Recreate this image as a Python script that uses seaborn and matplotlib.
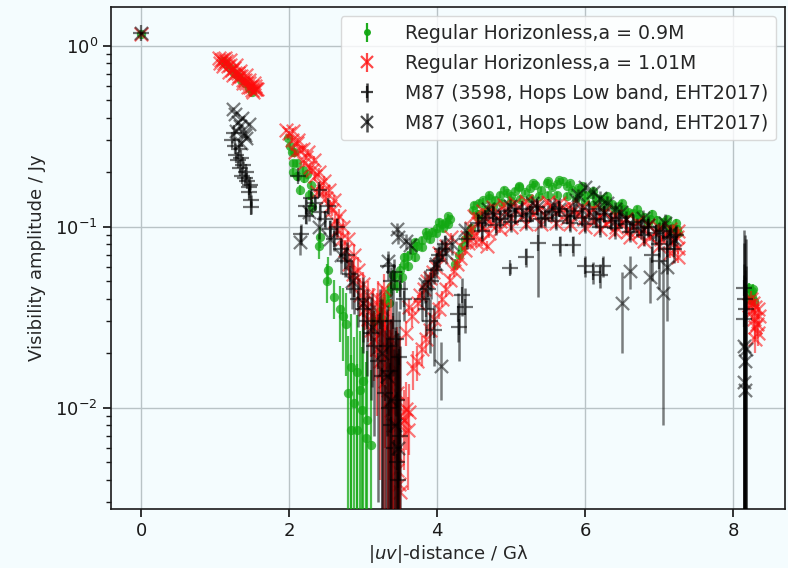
import matplotlib
matplotlib.use("Agg")
import matplotlib.pyplot as plt
import seaborn as sns

# =====================================================================
# Visibility amplitudes (Jy) against baseline length |uv| (G-lambda).
# Each series is stored as a few segments: u, amp and the 1-sigma error
# (a list, or a single value shared by the segment).
# =====================================================================

# ---- Regular horizonless model, a = 0.9M ----
g_zero_u, g_zero_amp, g_zero_err = [0.00], [1.17], 0.02
g_short_u = [1.10, 1.15, 1.20, 1.25, 1.30, 1.35, 1.40, 1.45, 1.49]
g_short_amp = [0.82, 0.79, 0.75, 0.71, 0.68, 0.65, 0.62, 0.585, 0.555]
g_short_err = 0.01
g_fall_u = [1.98, 2.01, 2.04, 2.07, 2.05, 2.10, 2.05, 2.18, 2.10, 2.24, 2.20, 2.30, 2.14, 2.27,
            2.31, 2.41, 2.40, 2.52, 2.51, 2.61, 2.68, 2.72, 2.76, 2.84, 2.91, 2.88,
            2.84, 2.92, 2.98, 3.03, 3.05, 3.10, 2.80, 2.95, 3.00]
g_fall_amp = [0.31, 0.28, 0.26, 0.26, 0.225, 0.225, 0.20, 0.205, 0.19, 0.195, 0.185, 0.17, 0.16, 0.15,
              0.128, 0.088, 0.078, 0.058, 0.050, 0.041, 0.035, 0.032, 0.029, 0.0168, 0.0157, 0.0106,
              0.0075, 0.0075, 0.0097, 0.0068, 0.0085, 0.0062, 0.0120, 0.0125, 0.0140]
g_fall_err = [0.01, 0.01, 0.01, 0.01, 0.01, 0.01, 0.01, 0.01, 0.01, 0.01, 0.01, 0.01, 0.01, 0.01,
              0.012, 0.012, 0.012, 0.010, 0.012, 0.010, 0.012, 0.014, 0.014, 0.016, 0.017, 0.014,
              0.012, 0.010, 0.012, 0.011, 0.012, 0.010, 0.013, 0.014, 0.015]
g_rise_u = [3.15, 3.22, 3.28, 3.33, 3.38, 3.43, 3.49, 3.55, 3.61, 3.67, 3.73, 3.79, 3.86, 3.93,
            4.00, 4.06, 4.12, 4.17,
            3.25, 3.35, 3.45, 3.52, 3.60, 3.70, 3.80, 3.90, 3.98, 4.08, 4.15,
            3.40, 3.55, 3.70, 3.85, 4.02, 4.14,
            4.24, 4.29, 4.33, 4.38, 4.42, 4.45]
g_rise_amp = [0.030, 0.034, 0.039, 0.043, 0.047, 0.053, 0.058, 0.062, 0.069, 0.074, 0.078, 0.084,
              0.090, 0.094, 0.099, 0.103, 0.106, 0.110,
              0.031, 0.038, 0.047, 0.053, 0.061, 0.068, 0.077, 0.085, 0.092, 0.098, 0.103,
              0.054, 0.068, 0.082, 0.094, 0.106, 0.114,
              0.062, 0.070, 0.077, 0.085, 0.091, 0.098]
g_rise_err = 0.004
g_arc_u = [4.48, 4.50, 4.55, 4.57, 4.62, 4.70, 4.78, 4.85, 4.94, 5.00, 5.05, 5.11,
           5.18, 5.25, 5.32, 5.40, 5.48, 5.55, 5.62, 5.70, 5.75, 5.82, 5.90, 5.93,
           6.00, 6.08, 6.15, 6.22, 6.29, 6.36, 6.45, 6.52, 6.58, 6.64, 6.72, 6.80,
           6.88, 6.97, 7.05, 7.12, 7.19, 7.24,
           4.55, 4.65, 4.75, 4.88, 5.00, 5.12, 5.25, 5.38, 5.50, 5.62, 5.75, 5.88,
           6.00, 6.12, 6.25, 6.40, 6.55, 6.70, 6.85, 7.00, 7.15, 7.25,
           4.70, 4.90, 5.10, 5.30, 5.50, 5.65, 5.80, 5.95, 6.10, 6.30, 6.50, 6.70,
           6.90, 7.10, 7.22]
g_arc_amp = [0.123, 0.132, 0.118, 0.135, 0.140, 0.145, 0.141, 0.150, 0.153, 0.147, 0.158, 0.166,
             0.155, 0.163, 0.170, 0.160, 0.174, 0.165, 0.172, 0.178, 0.168, 0.160, 0.163, 0.155,
             0.150, 0.152, 0.145, 0.142, 0.140, 0.133, 0.130, 0.125, 0.121, 0.119, 0.117, 0.113,
             0.111, 0.109, 0.106, 0.102, 0.099, 0.097,
             0.113, 0.125, 0.130, 0.135, 0.138, 0.142, 0.145, 0.147, 0.150, 0.150, 0.148, 0.144,
             0.139, 0.134, 0.129, 0.123, 0.117, 0.111, 0.105, 0.100, 0.096, 0.092,
             0.150, 0.160, 0.168, 0.175, 0.178, 0.182, 0.174, 0.168, 0.158, 0.148, 0.136, 0.126,
             0.118, 0.110, 0.105]
g_arc_err = 0.005
g_far_u = [8.22, 8.24, 8.26, 8.28, 8.25, 8.23, 8.27]
g_far_amp = [0.046, 0.043, 0.041, 0.039, 0.044, 0.040, 0.045]
g_far_err = 0.003

# ---- Regular horizonless model, a = 1.01M ----
r_zero_u, r_zero_amp, r_zero_err = [0.00], [1.17], 0.02
r_short_u = [1.05, 1.08, 1.10, 1.12, 1.15, 1.17, 1.20, 1.22, 1.25, 1.27, 1.30, 1.32, 1.35, 1.37,
             1.40, 1.42, 1.45, 1.47, 1.50, 1.53, 1.55,
             1.07, 1.10, 1.13, 1.18, 1.20, 1.24, 1.28, 1.31, 1.34, 1.38, 1.41, 1.44, 1.46,
             1.49, 1.52, 1.54, 1.56, 1.51]
r_short_amp = [0.86, 0.83, 0.85, 0.80, 0.82, 0.77, 0.78, 0.74, 0.75, 0.71, 0.71, 0.68, 0.68, 0.65,
               0.65, 0.62, 0.62, 0.595, 0.60, 0.58, 0.575,
               0.80, 0.77, 0.86, 0.72, 0.83, 0.69, 0.78, 0.66, 0.73, 0.62, 0.69, 0.59, 0.65,
               0.57, 0.62, 0.60, 0.58, 0.555]
r_short_err = 0.01
r_fall_u = [1.96, 2.00, 2.03, 2.10, 2.08, 2.15, 2.23, 2.20, 2.28, 2.31, 2.35, 2.41, 2.38, 2.45,
            2.50, 2.55, 2.58, 2.62, 2.65, 2.70, 2.75, 2.81, 2.86, 2.88, 2.95, 2.99,
            2.05, 2.12, 2.18, 2.25, 2.33, 2.40, 2.47, 2.53, 2.60, 2.67, 2.73, 2.80, 2.87, 2.93]
r_fall_amp = [0.342, 0.33, 0.30, 0.29, 0.26, 0.265, 0.243, 0.225, 0.215, 0.206, 0.19, 0.170, 0.155,
              0.158, 0.145, 0.13, 0.124, 0.108, 0.096, 0.085, 0.074, 0.062, 0.055, 0.051, 0.042, 0.038,
              0.34, 0.30, 0.27, 0.26, 0.235, 0.20, 0.18, 0.16, 0.14, 0.115, 0.10, 0.085, 0.07, 0.058]
r_fall_err = 0.01
r_null_u = [3.02, 3.07, 3.11, 3.15, 3.19, 3.23, 3.26, 3.30, 3.33, 3.36, 3.38, 3.40, 3.42, 3.44,
            3.46, 3.48, 3.50,
            3.20, 3.25, 3.30, 3.35, 3.40, 3.45, 3.50, 3.28, 3.38,
            3.00, 3.06, 3.13, 3.18, 3.24, 3.29, 3.34, 3.39, 3.44, 3.48]
r_null_amp = [0.035, 0.031, 0.027, 0.024, 0.021, 0.018, 0.016, 0.014, 0.0125, 0.011, 0.0097, 0.0080,
              0.0066, 0.0055, 0.0045, 0.0038, 0.0034,
              0.040, 0.035, 0.028, 0.020, 0.016, 0.012, 0.009, 0.045, 0.024,
              0.048, 0.042, 0.036, 0.031, 0.026, 0.022, 0.018, 0.014, 0.0105, 0.008]
r_null_err = [0.008, 0.008, 0.008, 0.010, 0.012, 0.014, 0.015, 0.016, 0.016, 0.016, 0.016, 0.016,
              0.016, 0.016, 0.016, 0.016, 0.016,
              0.010, 0.012, 0.014, 0.016, 0.016, 0.016, 0.016, 0.010, 0.016,
              0.008, 0.008, 0.010, 0.012, 0.014, 0.016, 0.016, 0.016, 0.016, 0.016]
r_low_u = [3.55, 3.58, 3.62, 3.60]
r_low_amp = [0.0085, 0.0098, 0.0095, 0.0075]
r_low_err = 0.004
r_rise_u = [3.67, 3.73, 3.80, 3.85, 3.90, 3.96, 4.02, 4.07, 4.12, 4.17, 4.22, 4.26, 4.31, 4.37, 4.42,
            3.58, 3.66, 3.74, 3.82, 3.90, 3.98, 4.05, 4.12, 3.77, 3.94, 3.62, 3.86, 4.02, 4.18]
r_rise_amp = [0.0165, 0.018, 0.021, 0.024, 0.027, 0.031, 0.035, 0.040, 0.045, 0.051, 0.057, 0.062,
              0.067, 0.074, 0.081,
              0.026, 0.032, 0.038, 0.045, 0.052, 0.060, 0.068, 0.078, 0.042, 0.056, 0.036, 0.050,
              0.072, 0.088]
r_rise_err = 0.004
r_arc_u = [4.45, 4.50, 4.55, 4.60, 4.66, 4.72, 4.78, 4.85, 4.92, 5.00, 5.08, 5.15, 5.22, 5.30,
           5.38, 5.45, 5.52, 5.60, 5.68, 5.75, 5.82, 5.90, 5.98, 6.05, 6.12, 6.20, 6.28, 6.35,
           6.42, 6.50, 6.58, 6.65, 6.72, 6.80, 6.88, 6.95, 7.02, 7.10, 7.18, 7.24, 7.26, 4.67, 4.60,
           4.50, 4.62, 4.75, 4.90, 5.05, 5.20, 5.35, 5.50, 5.65, 5.80, 5.95, 6.10, 6.25, 6.40,
           6.55, 6.70, 6.85, 7.00, 7.15, 7.25,
           4.40, 4.52, 4.70, 4.85, 5.00, 5.20, 5.40, 5.60, 5.80, 6.00, 6.20, 6.40, 6.60, 6.80,
           7.00, 7.15, 7.25]
r_arc_amp = [0.098, 0.090, 0.105, 0.098, 0.112, 0.104, 0.118, 0.108, 0.122, 0.112, 0.126, 0.115,
             0.128, 0.118, 0.125, 0.114, 0.130, 0.120, 0.126, 0.112, 0.122, 0.117, 0.110, 0.120,
             0.108, 0.114, 0.104, 0.110, 0.100, 0.106, 0.095, 0.101, 0.092, 0.097, 0.088, 0.094,
             0.085, 0.091, 0.082, 0.088, 0.076, 0.078, 0.083,
             0.115, 0.122, 0.128, 0.132, 0.135, 0.138, 0.136, 0.137, 0.135, 0.132, 0.128, 0.126,
             0.120, 0.115, 0.110, 0.106, 0.102, 0.099, 0.097, 0.095,
             0.088, 0.082, 0.092, 0.097, 0.100, 0.104, 0.103, 0.105, 0.103, 0.100, 0.097, 0.093,
             0.088, 0.083, 0.078, 0.072, 0.068]
r_arc_err = 0.005
r_far_u = [8.22, 8.25, 8.28, 8.30, 8.32, 8.34, 8.27, 8.35, 8.30, 8.24, 8.33, 8.29]
r_far_amp = [0.037, 0.034, 0.031, 0.036, 0.029, 0.026, 0.038, 0.032, 0.024, 0.040, 0.035, 0.028]
r_far_err = 0.004

# ---- M87, track 3598 (HOPS low band, EHT 2017) ----
p_zero_u, p_zero_amp, p_zero_err = [0.00], [1.18], 0.02
p_short_u = [1.23, 1.26, 1.28, 1.30, 1.33, 1.36, 1.40, 1.43, 1.45, 1.46, 1.48, 1.48, 1.38, 1.25,
             1.32, 1.42, 1.47, 1.35]
p_short_amp = [0.30, 0.28, 0.25, 0.234, 0.21, 0.19, 0.185, 0.18, 0.165, 0.155, 0.14, 0.128, 0.22,
               0.33, 0.27, 0.20, 0.17, 0.24]
p_short_err = 0.01
p_fall_u = [2.16, 2.22, 2.22, 2.30, 2.35, 2.42, 2.48, 2.55, 2.60, 2.70, 2.75, 2.82, 2.88, 2.93,
            2.12, 2.40, 2.52, 2.64, 2.78]
p_fall_amp = [0.091, 0.130, 0.115, 0.145, 0.135, 0.12, 0.11, 0.097, 0.085, 0.075, 0.065, 0.055,
              0.045, 0.040, 0.19, 0.16, 0.13, 0.10, 0.07]
p_fall_err = 0.012
p_null_u = [3.00, 3.05, 3.10, 3.15, 3.20, 3.25, 3.30, 3.35, 3.38, 3.42, 3.45, 3.47,
            3.40, 3.44, 3.48, 3.22, 3.32, 3.36, 3.46, 3.50]
p_null_amp = [0.035, 0.030, 0.026, 0.022, 0.018, 0.015, 0.012, 0.010, 0.008, 0.006, 0.005, 0.004,
              0.030, 0.024, 0.019, 0.030, 0.022, 0.016, 0.011, 0.007]
p_null_err = 0.015
p_mid_u = [3.33, 3.42, 3.38, 3.50, 3.55,
           3.80, 3.85, 3.88, 3.92, 3.95, 4.00, 4.03, 4.07, 4.10, 3.90, 3.95, 4.30, 4.37, 4.28,
           4.33, 4.40]
p_mid_amp = [0.061, 0.056, 0.050, 0.045, 0.040,
             0.040, 0.035, 0.045, 0.050, 0.058, 0.065, 0.070, 0.075, 0.080, 0.030, 0.027, 0.028,
             0.036, 0.033, 0.042, 0.085]
p_mid_err = 0.01
p_arc_u = [4.55, 4.65, 4.75, 4.85, 4.95, 5.05, 5.15, 5.25, 5.35, 5.45, 5.55, 5.65, 5.75, 5.85,
           5.95, 6.05, 6.15, 6.25, 6.35, 6.45, 6.55, 6.65, 6.75, 6.85, 6.95, 7.05, 7.15, 7.22,
           4.60, 4.80, 5.00, 5.20, 5.40, 5.60, 5.80, 6.00, 6.20, 6.40, 6.60, 6.80, 7.00, 7.20]
p_arc_amp = [0.105, 0.112, 0.118, 0.110, 0.122, 0.115, 0.125, 0.118, 0.128, 0.112, 0.120, 0.126,
             0.115, 0.122, 0.112, 0.125, 0.110, 0.118, 0.108, 0.112, 0.104, 0.106, 0.098, 0.100,
             0.092, 0.095, 0.088, 0.090,
             0.095, 0.102, 0.106, 0.108, 0.110, 0.108, 0.105, 0.104, 0.100, 0.098, 0.094, 0.090,
             0.080, 0.075]
p_arc_err = 0.012
p_out_u = [4.98, 5.20, 5.36, 5.66, 5.83, 6.00, 6.10, 6.24, 6.20, 6.90, 7.00, 7.10]
p_out_amp = [0.059, 0.068, 0.081, 0.079, 0.079, 0.061, 0.056, 0.061, 0.054, 0.070, 0.065, 0.075]
p_out_err = [0.004, 0.008, 0.040, 0.010, 0.010, 0.008, 0.008, 0.008, 0.008, 0.020, 0.020, 0.020]
p_far_u = [8.14, 8.16, 8.15, 8.17]
p_far_amp = [0.046, 0.040, 0.031, 0.035]
p_far_err = 0.05

# ---- M87, track 3601 (HOPS low band, EHT 2017) ----
x_zero_u, x_zero_amp, x_zero_err = [0.00], [1.18], 0.02
x_short_u = [1.24, 1.27, 1.30, 1.33, 1.36, 1.39, 1.42, 1.45, 1.28, 1.35, 1.40]
x_short_amp = [0.45, 0.42, 0.38, 0.36, 0.40, 0.33, 0.31, 0.37, 0.34, 0.29, 0.32]
x_short_err = 0.01
x_fall_u = [2.14, 2.26, 2.40, 2.55, 2.70, 2.85, 3.00, 3.12, 3.25, 3.32, 3.38, 3.43, 3.47]
x_fall_amp = [0.082, 0.120, 0.100, 0.085, 0.070, 0.050, 0.038, 0.028, 0.020, 0.015, 0.011, 0.008, 0.006]
x_fall_err = [0.012, 0.012, 0.015, 0.015, 0.015, 0.015, 0.015, 0.015, 0.020, 0.020, 0.020, 0.020, 0.020]
x_mid_u = [3.33, 3.45, 3.47, 3.63, 3.58, 3.84, 3.98, 4.05, 4.12, 4.37, 4.20]
x_mid_amp = [0.065, 0.097, 0.088, 0.079, 0.083, 0.048, 0.062, 0.017, 0.072, 0.096, 0.080]
x_mid_err = [0.008, 0.008, 0.008, 0.008, 0.008, 0.010, 0.010, 0.006, 0.010, 0.010, 0.010]
x_arc_u = [4.60, 4.75, 4.90, 5.05, 5.20, 5.35, 5.50, 5.65, 5.80, 5.95, 6.10, 6.25, 6.40, 6.55,
           6.70, 6.85, 7.00, 7.15, 7.20,
           5.90, 6.00, 6.10, 6.20, 6.30, 6.40,
           4.68, 4.98, 5.28, 5.58, 5.88, 6.18, 6.48, 6.78, 7.08]
x_arc_amp = [0.110, 0.118, 0.115, 0.124, 0.118, 0.128, 0.120, 0.126, 0.118, 0.124, 0.114, 0.118,
             0.108, 0.110, 0.100, 0.102, 0.094, 0.092, 0.086,
             0.150, 0.165, 0.155, 0.145, 0.135, 0.125,
             0.125, 0.130, 0.135, 0.132, 0.140, 0.128, 0.120, 0.112, 0.105]
x_arc_err = 0.012
x_out_u = [6.50, 6.60, 6.87, 7.05, 7.10]
x_out_amp = [0.038, 0.057, 0.053, 0.043, 0.060]
x_out_err = [0.018, 0.012, 0.015, 0.035, 0.030]
x_far_u = [8.15, 8.16, 8.15, 8.16, 8.17]
x_far_amp = [0.022, 0.018, 0.0138, 0.0125, 0.021]
x_far_err = 0.04

labels = ["Regular Horizonless,a = 0.9M",
          "Regular Horizonless,a = 1.01M",
          "M87 (3598, Hops Low band, EHT2017)",
          "M87 (3601, Hops Low band, EHT2017)"]

green_segments = [(g_zero_u, g_zero_amp, g_zero_err), (g_short_u, g_short_amp, g_short_err),
                  (g_fall_u, g_fall_amp, g_fall_err), (g_rise_u, g_rise_amp, g_rise_err),
                  (g_arc_u, g_arc_amp, g_arc_err), (g_far_u, g_far_amp, g_far_err)]
red_segments = [(r_zero_u, r_zero_amp, r_zero_err), (r_short_u, r_short_amp, r_short_err),
                (r_fall_u, r_fall_amp, r_fall_err), (r_null_u, r_null_amp, r_null_err),
                (r_low_u, r_low_amp, r_low_err), (r_rise_u, r_rise_amp, r_rise_err),
                (r_arc_u, r_arc_amp, r_arc_err), (r_far_u, r_far_amp, r_far_err)]
plus_segments = [(p_zero_u, p_zero_amp, p_zero_err), (p_short_u, p_short_amp, p_short_err),
                 (p_fall_u, p_fall_amp, p_fall_err), (p_null_u, p_null_amp, p_null_err),
                 (p_mid_u, p_mid_amp, p_mid_err), (p_arc_u, p_arc_amp, p_arc_err),
                 (p_out_u, p_out_amp, p_out_err), (p_far_u, p_far_amp, p_far_err)]
cross_segments = [(x_zero_u, x_zero_amp, x_zero_err), (x_short_u, x_short_amp, x_short_err),
                  (x_fall_u, x_fall_amp, x_fall_err), (x_mid_u, x_mid_amp, x_mid_err),
                  (x_arc_u, x_arc_amp, x_arc_err), (x_out_u, x_out_amp, x_out_err),
                  (x_far_u, x_far_amp, x_far_err)]

bg = "#f4fcfe"
sns.set_theme(style="ticks")
plt.rcParams.update({
    "font.family": ["DejaVu Sans"],
    "font.size": 13,
    "axes.facecolor": bg,
    "figure.facecolor": bg,
    "axes.edgecolor": "#1a1a1a",
    "axes.linewidth": 1.2,
    "xtick.color": "#1a1a1a",
    "ytick.color": "#1a1a1a",
    "xtick.major.size": 6,
    "ytick.major.size": 6,
    "ytick.minor.size": 3.5,
    "xtick.labelsize": 13,
    "ytick.labelsize": 13,
    "axes.labelsize": 13,
})

fig = plt.figure(figsize=(7.88, 5.68), dpi=100)
ax = fig.add_axes([111 / 788, 1 - 509 / 568, (785 - 111) / 788, (509 - 7) / 568])
ax.set_yscale("log")

styles = [
    # segments, marker, colour, alpha, marker area, marker edge width, error line width
    (green_segments, "o", "#12a812", 0.75, 45, 0.0, 1.6),
    (red_segments, "x", "#ff0a0a", 0.55, 95, 1.6, 1.6),
    (plus_segments, "+", "#000000", 0.55, 120, 1.6, 1.8),
    (cross_segments, "x", "#000000", 0.5, 90, 1.6, 1.8),
]

handles = []
for i, (segments, mk, col, al, size, lw, elw) in enumerate(styles):
    z = 3 + i
    all_u, all_amp = [], []
    for u, amp, err in segments:
        ax.errorbar(u, amp, yerr=err, fmt="none", ecolor=col, alpha=al,
                    elinewidth=elw, zorder=z)
        all_u += u
        all_amp += amp
    sns.scatterplot(x=all_u, y=all_amp, marker=mk, color=col, alpha=al, s=size,
                    linewidth=lw, ax=ax, legend=False, zorder=z)
    # legend glyph: the marker crossed by its vertical error bar
    h = ax.errorbar([], [], yerr=[], fmt=mk, color=col, alpha=min(al + 0.2, 1),
                    markersize=8 if mk != "o" else 5, mew=lw, elinewidth=elw,
                    label=labels[i])
    handles.append(h)

ax.set_xlim(-0.41, 8.70)
ax.set_ylim(0.00275, 1.64)
ax.set_xticks([0, 2, 4, 6, 8])
ax.grid(True, which="major", color="#b9c3c6", linewidth=1.0)
ax.set_axisbelow(True)
ax.tick_params(which="both", direction="out")

ax.set_xlabel(r"$|uv|$-distance / Gλ", labelpad=2)
ax.set_ylabel("Visibility amplitude / Jy", labelpad=7)

ax.legend(handles=handles, loc="upper right", fontsize=13.6,
          frameon=True, fancybox=True, framealpha=0.8,
          edgecolor="#d0d0d0", facecolor="white", labelspacing=0.58,
          borderaxespad=0.5, handletextpad=1.0)

fig.savefig("out.png", dpi=100, facecolor=bg)
